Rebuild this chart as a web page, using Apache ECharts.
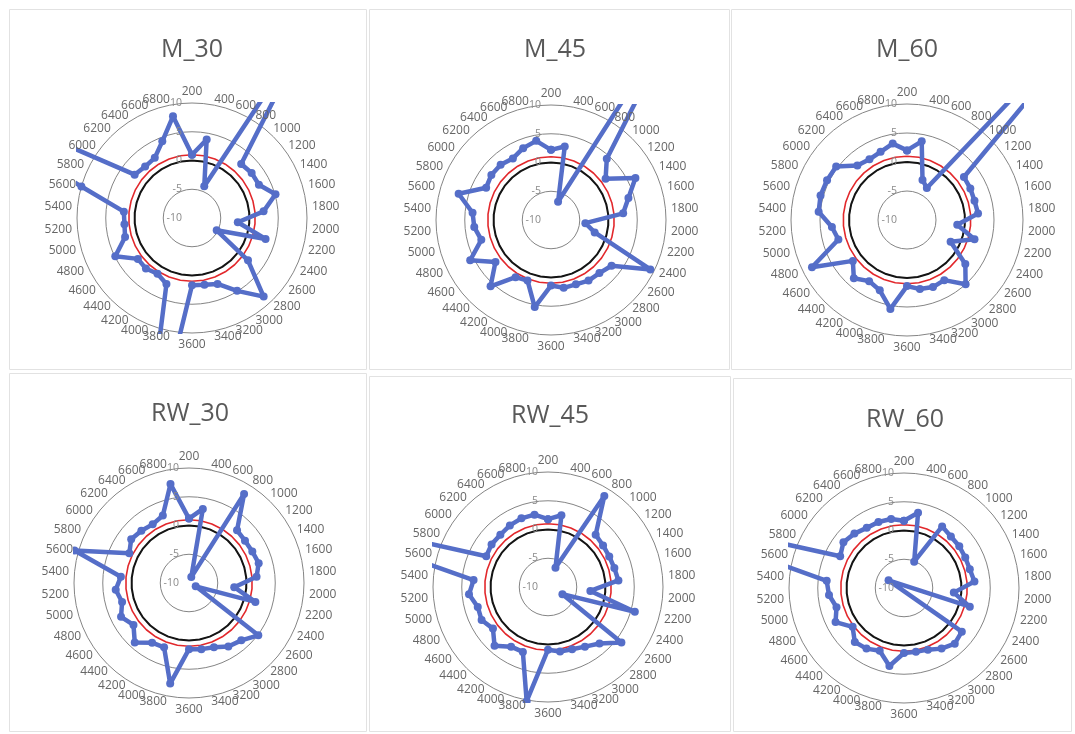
<!DOCTYPE html>
<html><head><meta charset="utf-8">
<script src="https://cdn.jsdelivr.net/npm/echarts@6/dist/echarts.min.js"></script>
<style>html,body{margin:0;padding:0;background:#fff}#c{width:1075px;height:734px}</style>
</head><body><div id="c"></div>
<script>
// ---- data ----
const categories = ['200','400','600','800','1000','1200','1400','1600','1800','2000','2200','2400','2600','2800','3000','3200','3400','3600','3800','4000','4200','4400','4600','4800','5000','5200','5400','5600','5800','6000','6200','6400','6600','6800'];
const M_30  = [1.0, 3.9, -4.1, 30, 2.7, 3.0, 3.0, 5.1, 2.5, -2.0, 3.3, -5.2, 2.2, 8.5, 4.9, 2.3, 1.8, 1.7, 40, 2.3, 1.4, 1.9, 1.8, 4.9, 2.1, 1.8, 1.9, 10, 45, 2.5, 2.1, 2.3, 4.3, 8.0];
const M_45  = [2.2, 3.0, -6.6, 35, 4.4, 1.9, 6.4, 4.0, 2.6, -4.0, -2.1, 9.3, 3.2, 2.5, 2.4, 2.0, 2.0, 1.4, 5.4, 1.3, 1.7, 5.6, 2.1, 5.7, 2.6, 3.4, 3.7, 6.7, 2.6, 3.0, 3.0, 2.6, 3.4, 4.0];
const M_60  = [2.0, 3.8, -2.6, -3.5, 50, 2.3, 2.2, 2.1, 2.3, -1.3, 2.1, -1.6, 2.6, 5.0, 2.2, 2.4, 2.1, 1.4, 5.6, 3.0, 2.4, 3.6, 1.7, 8.3, 2.3, 3.0, 5.3, 5.5, 5.4, 5.3, 2.7, 2.3, 2.6, 3.4];
const RW_30 = [1.2, 3.1, -8.9, 8.2, 2.4, 2.2, 2.3, 2.6, 1.8, -2.1, 2.0, -8.7, 5.1, 3.5, 3.0, 2.0, 1.7, 1.5, 7.8, 2.0, 2.2, 4.0, 2.1, 3.2, 2.1, 2.8, 1.9, 10.7, 1.6, 2.6, 2.3, 2.0, 2.6, 7.5];
const RW_45 = [1.8, 2.7, -6.4, 8.6, 2.3, 2.0, 1.9, 2.0, 2.3, -2.6, 5.7, -7.2, 6.0, 3.3, 2.2, 1.6, 1.4, 0.9, 10.2, 2.1, 2.2, 3.8, 2.0, 2.9, 2.7, 3.8, 3.0, 40, 2.0, 2.3, 2.3, 2.6, 2.8, 2.8];
const RW_60 = [1.7, 3.3, -5.1, 2.6, 2.1, 2.05, 1.9, 1.9, 2.3, -1.3, 1.9, -13, 2.6, 3.1, 2.4, 1.5, 1.3, 1.3, 3.8, 1.7, 2.4, 2.7, 1.2, 3.3, 2.2, 3.1, 3.5, 40, 2.4, 3.2, 2.8, 2.3, 2.3, 2.2];
const zeroRef = [0,0,0,0,0,0,0,0,0,0,0,0,0,0,0,0,0,0,0,0,0,0,0,0,0,0,0,0,0,0,0,0,0,0];
const redRef  = [1,1,1,1,1,1,1,1,1,1,1,1,1,1,1,1,1,1,1,1,1,1,1,1,1,1,1,1,1,1,1,1,1,1];
const titles = ['M_30','M_45','M_60','RW_30','RW_45','RW_60'];
const seriesValues = [M_30, M_45, M_60, RW_30, RW_45, RW_60];

// ---- layout / style ----
const FONT = 'Open Sans';
const LABEL_FONT = '12px "Liberation Sans Narrow", "Open Sans"';
const BLUE = '#556ec8';
const AX_MIN = -10, AX_MAX = 10, SER_MAX = 18.5;
const LABEL_GAP = 5.5;
const layout = [
  {cx:192, cy:218, r:115, tx:192, ty:50,  frame:[9,9,357,360]},
  {cx:551, cy:220, r:115, tx:555, ty:50,  frame:[369,9,360,360]},
  {cx:907, cy:220, r:116, tx:907, ty:50,  frame:[731,9,340,360]},
  {cx:189, cy:583, r:115, tx:190, ty:414, frame:[9,373,357,358]},
  {cx:548, cy:587, r:115, tx:550, ty:416, frame:[369,376,361,355]},
  {cx:904, cy:588, r:115, tx:905, ty:420, frame:[733,378,338,353]}
];

const toPolar = vals => vals.map((v, i) => [v, i]).concat([[vals[0], vals.length]]);

const polar = [], angleAxis = [], radiusAxis = [], series = [];
const N = layout.length;
// 0..N-1: grid rings; N..2N-1: series (wide clip, masked to square); 2N..3N-1: radial tick labels on top
layout.forEach(L => polar.push({center:[L.cx, L.cy], radius:L.r}));
layout.forEach(L => polar.push({center:[L.cx, L.cy], radius:L.r * (SER_MAX - AX_MIN) / (AX_MAX - AX_MIN)}));
layout.forEach(L => polar.push({center:[L.cx, L.cy], radius:L.r}));

const hiddenAngle = idx => ({polarIndex:idx, type:'value', min:0, max:categories.length, interval:1,
  startAngle:90, clockwise:true,
  axisLine:{show:false}, axisTick:{show:false}, axisLabel:{show:false}, splitLine:{show:false}, splitArea:{show:false}});

layout.forEach((L, k) => {
  angleAxis.push(hiddenAngle(k));
  radiusAxis.push({
    polarIndex:k, type:'value', min:AX_MIN, max:AX_MAX, interval:5,
    axisLine:{show:false}, axisTick:{show:false}, axisLabel:{show:false},
    splitLine:{show:true, lineStyle:{color:'#858585', width:1}}
  });
});
layout.forEach((L, k) => {
  angleAxis.push(hiddenAngle(N+k));
  radiusAxis.push({polarIndex:N+k, type:'value', min:AX_MIN, max:SER_MAX,
    axisLine:{show:false}, axisTick:{show:false}, axisLabel:{show:false}, splitLine:{show:false}});
});
layout.forEach((L, k) => {
  angleAxis.push(hiddenAngle(2*N+k));
  radiusAxis.push({polarIndex:2*N+k, type:'value', min:AX_MIN, max:AX_MAX, interval:5, z:90,
    axisLine:{show:false}, axisTick:{show:false}, splitLine:{show:false},
    axisLabel:{fontSize:10.5, fontFamily:FONT, color:'#8a8a8a', margin:10}});
});

layout.forEach((L, k) => {
  series.push({type:'line', coordinateSystem:'polar', polarIndex:N+k, data:toPolar(zeroRef), symbol:'none', silent:true, z:2,
    lineStyle:{color:'#141414', width:2}});
  series.push({type:'line', coordinateSystem:'polar', polarIndex:N+k, data:toPolar(redRef), symbol:'none', silent:true, z:2,
    lineStyle:{color:'#e2282c', width:1.6}});
  series.push({type:'line', coordinateSystem:'polar', polarIndex:N+k, name:titles[k], data:toPolar(seriesValues[k]), clip:true, z:3,
    symbol:'circle', symbolSize:8, itemStyle:{color:BLUE}, lineStyle:{color:BLUE, width:4.5}});
});

const chart = echarts.init(document.getElementById('c'));
chart.setOption({animation:false, backgroundColor:'#ffffff', polar, angleAxis, radiusAxis, series});

// ---- overlay: masks (square plot area), frames, titles, category labels placed Excel-style ----
const graphic = [];
layout.forEach((L, k) => {
  const R = L.r + 1, O = L.r * (SER_MAX - AX_MIN) / (AX_MAX - AX_MIN) + 4;
  const white = {fill:'#ffffff'};
  graphic.push({type:'rect', z:60, silent:true, shape:{x:L.cx-O, y:L.cy-O, width:2*O, height:O-R}, style:white});
  graphic.push({type:'rect', z:60, silent:true, shape:{x:L.cx-O, y:L.cy+R, width:2*O, height:O-R}, style:white});
  graphic.push({type:'rect', z:60, silent:true, shape:{x:L.cx-O, y:L.cy-R, width:O-R, height:2*R}, style:white});
  graphic.push({type:'rect', z:60, silent:true, shape:{x:L.cx+R, y:L.cy-R, width:O-R, height:2*R}, style:white});
  graphic.push({type:'rect', z:100, silent:true,
    shape:{x:L.frame[0]+0.5, y:L.frame[1]+0.5, width:L.frame[2], height:L.frame[3]},
    style:{fill:'none', stroke:'#e2e2e2', lineWidth:1}});
  graphic.push({type:'text', z:100, silent:true, x:L.tx, y:L.ty,
    style:{text:titles[k], fill:'#595959', font:'25px "Open Sans"', textAlign:'center', textVerticalAlign:'middle'}});

  categories.forEach((cat, i) => {
    const pOut = chart.convertToPixel({polarIndex:k}, [AX_MAX, i]);
    const pIn  = chart.convertToPixel({polarIndex:k}, [AX_MIN, i]);
    const dx = pOut[0] - pIn[0], dy = pOut[1] - pIn[1];
    const len = Math.hypot(dx, dy) || 1;
    const ux = dx / len, uy = dy / len;
    const x = pOut[0] + ux * LABEL_GAP, y = pOut[1] + uy * LABEL_GAP;
    const align = Math.abs(ux) < 0.02 ? 'center' : (ux > 0 ? 'left' : 'right');
    const valign = Math.abs(uy) > 0.999 ? (uy < 0 ? 'bottom' : 'top') : 'middle';
    graphic.push({type:'text', z:100, silent:true, x, y,
      style:{text:cat, fill:'#666666', font:LABEL_FONT, textAlign:align, textVerticalAlign:valign}});
  });
});
chart.setOption({graphic});
</script>
</body></html>
